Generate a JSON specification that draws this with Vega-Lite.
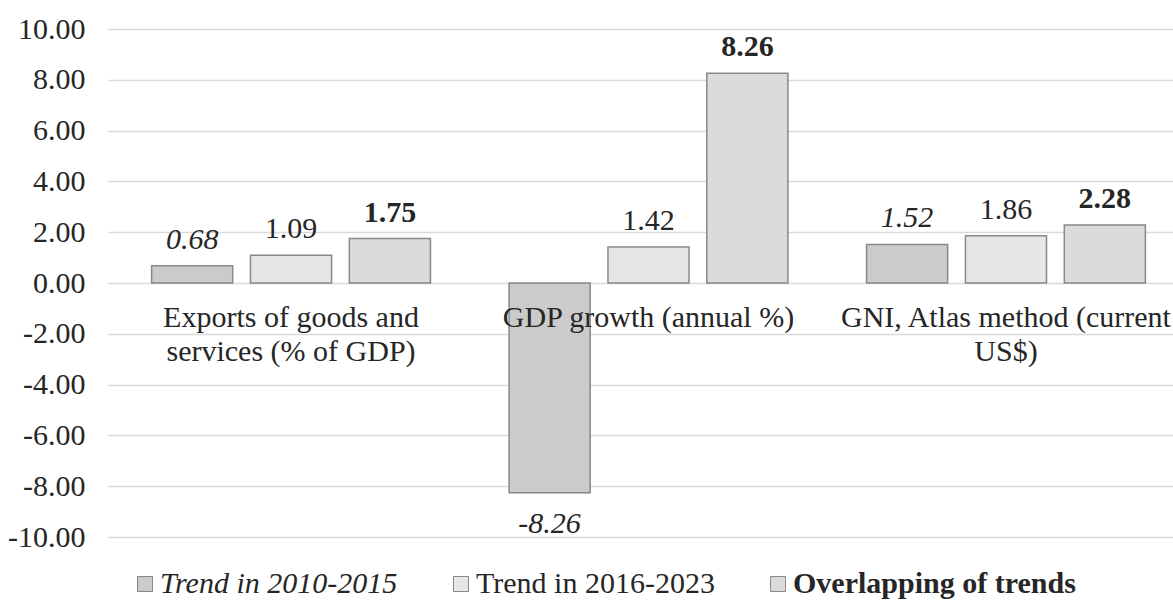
{
  "$schema": "https://vega.github.io/schema/vega-lite/v6.json",
  "autosize": "none",
  "width": 1065,
  "height": 508,
  "padding": {"left": 108, "top": 29, "right": 0, "bottom": 66},
  "background": "white",
  "config": {
    "view": {"stroke": null},
    "font": "Liberation Serif",
    "locale": {"number": {"decimal": ".", "thousands": ",", "grouping": [3], "currency": ["$", ""], "minus": "-"}},
    "text": {"font": "Liberation Serif", "fontSize": 30, "color": "#262626"}
  },
  "datasets": {
    "bars": [
      {"cat": "Exports", "series": "Trend in 2010-2015", "value": 0.68},
      {"cat": "Exports", "series": "Trend in 2016-2023", "value": 1.09},
      {"cat": "Exports", "series": "Overlapping of trends", "value": 1.75},
      {"cat": "GDP", "series": "Trend in 2010-2015", "value": -8.26},
      {"cat": "GDP", "series": "Trend in 2016-2023", "value": 1.42},
      {"cat": "GDP", "series": "Overlapping of trends", "value": 8.26},
      {"cat": "GNI", "series": "Trend in 2010-2015", "value": 1.52},
      {"cat": "GNI", "series": "Trend in 2016-2023", "value": 1.86},
      {"cat": "GNI", "series": "Overlapping of trends", "value": 2.28}
    ],
    "cats": [
      {"cat": "Exports", "label": "Exports of goods and\nservices (% of GDP)"},
      {"cat": "GDP", "label": "GDP growth (annual %)"},
      {"cat": "GNI", "label": "GNI, Atlas method (current\nUS$)"}
    ]
  },
  "encoding": {
    "x": {
      "field": "cat", "type": "nominal", "sort": ["Exports", "GDP", "GNI"],
      "scale": {"range": [0, 1081], "paddingInner": 0.22, "paddingOuter": 0.122},
      "axis": null
    },
    "y": {
      "type": "quantitative",
      "scale": {"domain": [-10, 10], "nice": false, "zero": false},
      "axis": {
        "title": null, "values": [-10, -8, -6, -4, -2, 0, 2, 4, 6, 8, 10], "format": ".2f",
        "domain": false, "ticks": false, "labelPadding": 23,
        "labelFont": "Liberation Serif", "labelFontSize": 30, "labelColor": "#262626",
        "gridColor": "#dadada", "gridWidth": 1.5
      }
    }
  },
  "layer": [
    {
      "data": {"name": "bars"},
      "mark": {"type": "bar", "stroke": "#888888", "strokeWidth": 1.5},
      "encoding": {
        "xOffset": {
          "field": "series", "type": "nominal",
          "sort": ["Trend in 2010-2015", "Trend in 2016-2023", "Overlapping of trends"],
          "scale": {"domain": ["Trend in 2010-2015", "Trend in 2016-2023", "Overlapping of trends"], "paddingInner": 0.18, "paddingOuter": 0}
        },
        "y": {"field": "value", "type": "quantitative"},
        "color": {
          "field": "series", "type": "nominal",
          "sort": ["Trend in 2010-2015", "Trend in 2016-2023", "Overlapping of trends"],
          "scale": {"domain": ["Trend in 2010-2015", "Trend in 2016-2023", "Overlapping of trends"], "range": ["#cbcbcb", "#e6e6e6", "#dbdbdb"]},
          "legend": {
            "title": null, "orient": "none", "direction": "horizontal",
            "legendX": 22, "legendY": 540,
            "symbolType": "square", "symbolSize": 225, "symbolStrokeColor": "#888888", "symbolStrokeWidth": 1,
            "labelFont": "Liberation Serif", "labelFontSize": 30, "labelColor": "#262626", "labelLimit": 400,
            "columnPadding": 48, "labelOffset": 0,
            "encode": {
              "labels": {
                "update": {
                  "fontStyle": {"signal": "datum.value === 'Trend in 2010-2015' ? 'italic' : 'normal'"},
                  "fontWeight": {"signal": "datum.value === 'Overlapping of trends' ? 'bold' : 'normal'"}
                }
              }
            }
          }
        }
      }
    },
    {
      "data": {"name": "bars"},
      "transform": [{"filter": "datum.series === 'Trend in 2010-2015' && datum.value >= 0"}],
      "mark": {"type": "text", "fontStyle": "italic", "baseline": "alphabetic", "dy": -17},
      "encoding": {
        "xOffset": {"field": "series", "type": "nominal", "sort": ["Trend in 2010-2015", "Trend in 2016-2023", "Overlapping of trends"]},
        "y": {"field": "value", "type": "quantitative"},
        "text": {"field": "value", "type": "quantitative", "format": ".2f"}
      }
    },
    {
      "data": {"name": "bars"},
      "transform": [{"filter": "datum.series === 'Trend in 2010-2015' && datum.value < 0"}],
      "mark": {"type": "text", "fontStyle": "italic", "baseline": "alphabetic", "dy": 40},
      "encoding": {
        "xOffset": {"field": "series", "type": "nominal", "sort": ["Trend in 2010-2015", "Trend in 2016-2023", "Overlapping of trends"]},
        "y": {"field": "value", "type": "quantitative"},
        "text": {"field": "value", "type": "quantitative", "format": ".2f"}
      }
    },
    {
      "data": {"name": "bars"},
      "transform": [{"filter": "datum.series === 'Trend in 2016-2023'"}],
      "mark": {"type": "text", "baseline": "alphabetic", "dy": -17},
      "encoding": {
        "xOffset": {"field": "series", "type": "nominal", "sort": ["Trend in 2010-2015", "Trend in 2016-2023", "Overlapping of trends"]},
        "y": {"field": "value", "type": "quantitative"},
        "text": {"field": "value", "type": "quantitative", "format": ".2f"}
      }
    },
    {
      "data": {"name": "bars"},
      "transform": [{"filter": "datum.series === 'Overlapping of trends'"}],
      "mark": {"type": "text", "fontWeight": "bold", "baseline": "alphabetic", "dy": -17},
      "encoding": {
        "xOffset": {"field": "series", "type": "nominal", "sort": ["Trend in 2010-2015", "Trend in 2016-2023", "Overlapping of trends"]},
        "y": {"field": "value", "type": "quantitative"},
        "text": {"field": "value", "type": "quantitative", "format": ".2f"}
      }
    },
    {
      "data": {"name": "cats"},
      "mark": {"type": "text", "baseline": "alphabetic", "dy": 44, "lineBreak": "\n", "lineHeight": 34, "align": "center"},
      "encoding": {
        "y": {"datum": 0},
        "text": {"field": "label", "type": "nominal"}
      }
    }
  ]
}
